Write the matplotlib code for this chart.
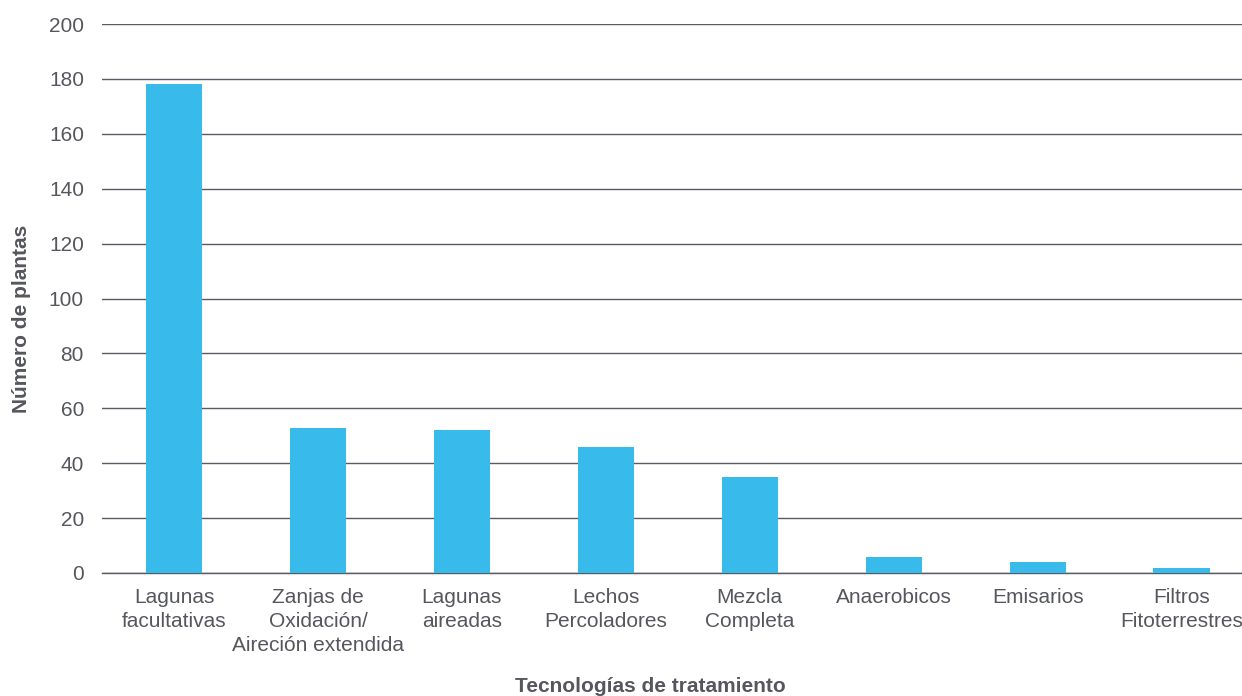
import matplotlib
matplotlib.use("Agg")
import matplotlib.pyplot as plt
import numpy as np

# plantas de tratamiento por tecnologia
tecnologias = ["Lagunas\nfacultativas", "Zanjas de\nOxidación/\nAireción extendida",
               "Lagunas\naireadas", "Lechos\nPercoladores", "Mezcla\nCompleta",
               "Anaerobicos", "Emisarios", "Filtros\nFitoterrestres"]
n_plantas = [178, 53, 52, 46, 35, 6, 4, 2]
y_ticks = [0, 20, 40, 60, 80, 100, 120, 140, 160, 180, 200]

plt.rcParams['font.family'] = ['Liberation Sans', 'DejaVu Sans']
gris = '#55575d'

fig = plt.figure(figsize=(12.42, 6.96), dpi=100)
ax = fig.add_axes([102 / 1242, 1 - 573 / 696, 1140 / 1242, 549 / 696])

x = np.arange(len(tecnologias))
ax.bar(x, n_plantas, width=0.39, color='#38baeb', zorder=3)

ax.set_ylim(0, 200)
ax.set_xlim(-0.5, 7.42)
ax.set_yticks(y_ticks)
ax.set_xticks(x)
ax.set_xticklabels(tecnologias, linespacing=1.32)
ax.tick_params(axis='both', length=0, labelsize=15, colors=gris)
ax.tick_params(axis='x', pad=11)
ax.tick_params(axis='y', pad=13)
ax.grid(axis='y', color='#5a5a62', linewidth=1.0, zorder=0)

for s in ['top', 'right', 'left']:
    ax.spines[s].set_visible(False)
ax.spines['bottom'].set_color('#5a5a62')
ax.spines['bottom'].set_linewidth(1.0)

fig.text(22 / 1242, 1 - 319 / 696, 'Número de plantas', rotation=90, ha='center', va='center',
         fontsize=15, fontweight='bold', color=gris)
fig.text(650 / 1242, 1 - 686 / 696, 'Tecnologías de tratamiento', ha='center', va='center',
         fontsize=15, fontweight='bold', color=gris)

fig.savefig('out.png', dpi=100)
